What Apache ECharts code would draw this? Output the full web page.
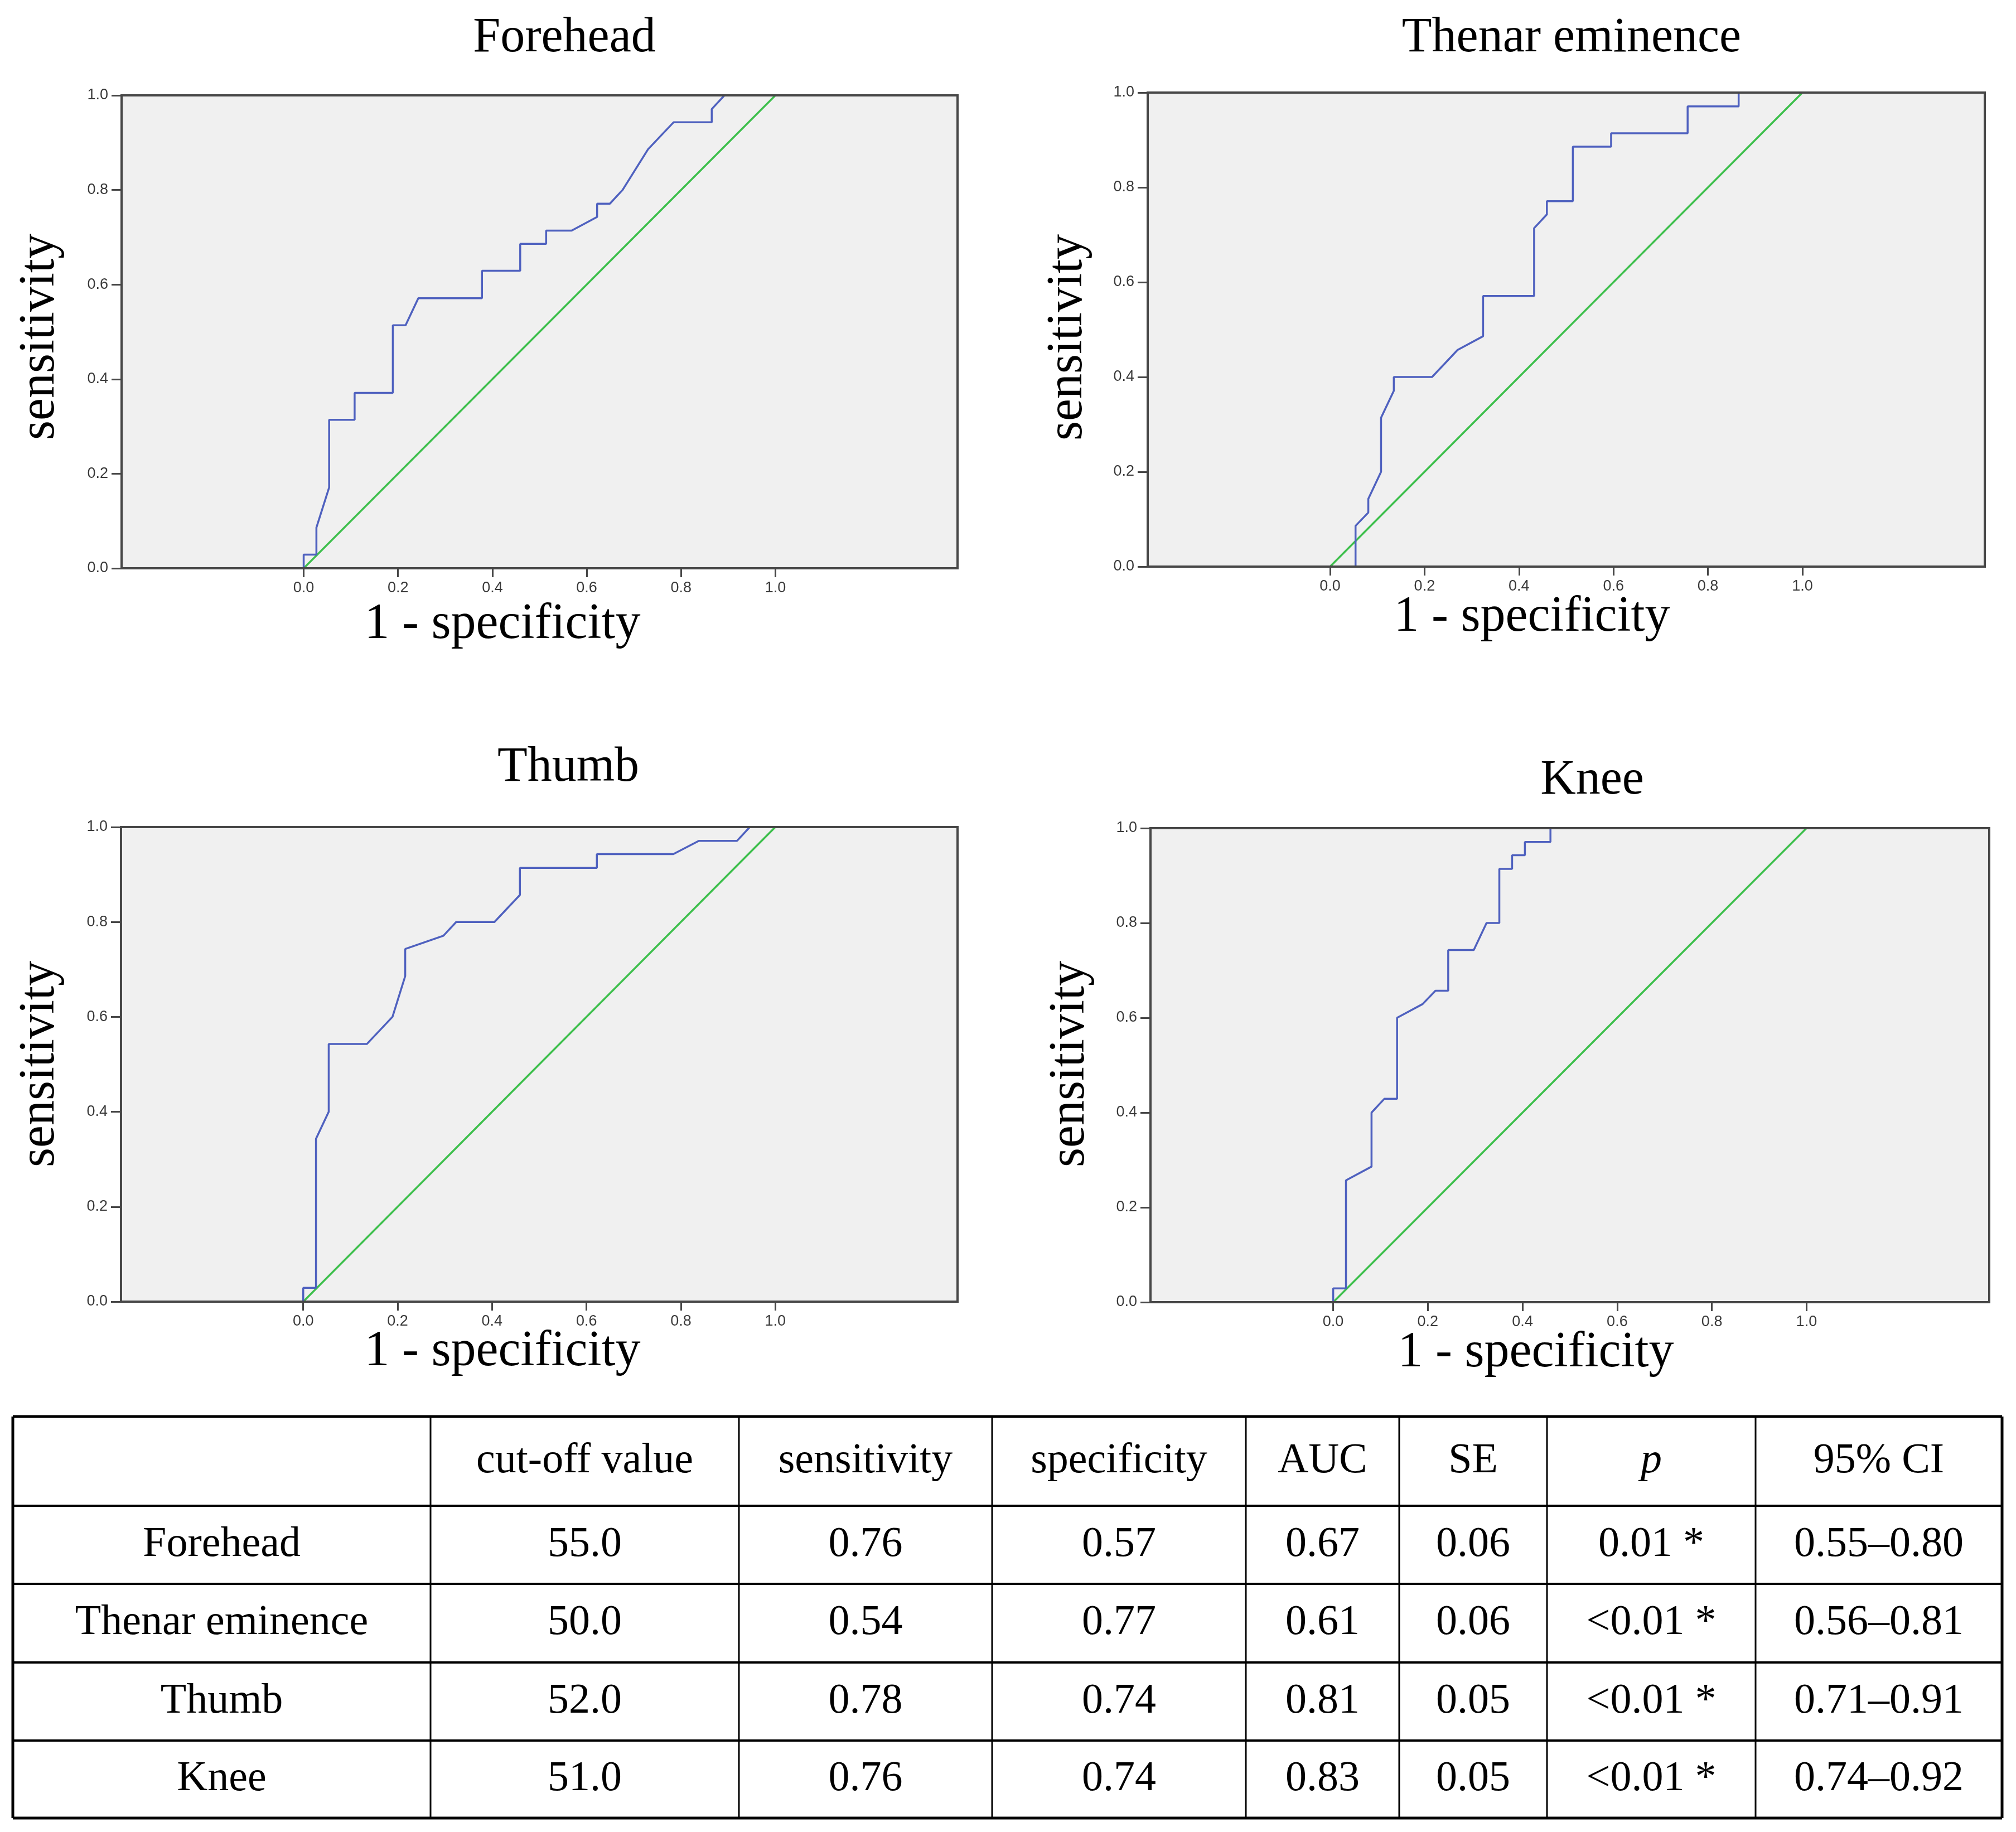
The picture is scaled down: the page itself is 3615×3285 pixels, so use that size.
<!DOCTYPE html>
<html>
<head>
<meta charset="utf-8">
<script src="https://cdn.jsdelivr.net/npm/echarts@6/dist/echarts.min.js"></script>
<style>
html,body{margin:0;padding:0;background:#fff;}
#chart{width:3615px;height:3285px;}
</style>
</head>
<body>
<div id="chart"></div>
<script>
// ---------- data ----------
const panelTitles = ['Forehead', 'Thenar eminence', 'Thumb', 'Knee'];
const xAxisTitle = '1 - specificity';
const yAxisTitle = 'sensitivity';
const tickValues = [0, 0.2, 0.4, 0.6, 0.8, 1.0];
const referenceLine = [[0, 0], [1, 1]];

const rocForehead = [[0,0],[0,0.029],[0.027,0.029],[0.027,0.086],[0.054,0.171],[0.054,0.314],[0.108,0.314],[0.108,0.371],[0.189,0.371],[0.189,0.514],[0.216,0.514],[0.243,0.571],[0.378,0.571],[0.378,0.629],[0.459,0.629],[0.459,0.686],[0.514,0.686],[0.514,0.714],[0.568,0.714],[0.622,0.743],[0.622,0.771],[0.649,0.771],[0.676,0.800],[0.730,0.886],[0.784,0.943],[0.865,0.943],[0.865,0.971],[0.892,1.0],[1,1]];
const rocThenar = [[0,0],[0.054,0],[0.054,0.086],[0.081,0.114],[0.081,0.143],[0.108,0.200],[0.108,0.314],[0.135,0.371],[0.135,0.400],[0.216,0.400],[0.270,0.457],[0.324,0.486],[0.324,0.571],[0.432,0.571],[0.432,0.714],[0.459,0.743],[0.459,0.771],[0.514,0.771],[0.514,0.886],[0.595,0.886],[0.595,0.914],[0.757,0.914],[0.757,0.971],[0.865,0.971],[0.865,1.0],[1,1]];
const rocThumb = [[0,0],[0,0.029],[0.027,0.029],[0.027,0.343],[0.054,0.400],[0.054,0.543],[0.135,0.543],[0.189,0.600],[0.216,0.686],[0.216,0.743],[0.297,0.771],[0.324,0.800],[0.405,0.800],[0.459,0.857],[0.459,0.914],[0.622,0.914],[0.622,0.943],[0.784,0.943],[0.838,0.971],[0.919,0.971],[0.946,1.0],[1,1]];
const rocKnee = [[0,0],[0,0.029],[0.027,0.029],[0.027,0.257],[0.081,0.286],[0.081,0.400],[0.108,0.429],[0.135,0.429],[0.135,0.600],[0.189,0.629],[0.216,0.657],[0.243,0.657],[0.243,0.743],[0.297,0.743],[0.324,0.800],[0.351,0.800],[0.351,0.914],[0.378,0.914],[0.378,0.943],[0.405,0.943],[0.405,0.971],[0.459,0.971],[0.459,1.0],[1,1]];
const rocCurves = [rocForehead, rocThenar, rocThumb, rocKnee];

const tableHeader = ['', 'cut-off value', 'sensitivity', 'specificity', 'AUC', 'SE', 'p', '95% CI'];
const tableRowForehead = ['Forehead', '55.0', '0.76', '0.57', '0.67', '0.06', '0.01 *', '0.55–0.80'];
const tableRowThenar = ['Thenar eminence', '50.0', '0.54', '0.77', '0.61', '0.06', '<0.01 *', '0.56–0.81'];
const tableRowThumb = ['Thumb', '52.0', '0.78', '0.74', '0.81', '0.05', '<0.01 *', '0.71–0.91'];
const tableRowKnee = ['Knee', '51.0', '0.76', '0.74', '0.83', '0.05', '<0.01 *', '0.74–0.92'];
const tableRows = [tableRowForehead, tableRowThenar, tableRowThumb, tableRowKnee];

// ---------- layout / style ----------
const grids = [
  {left: 218, top: 171, width: 1499, height: 848},
  {left: 2058, top: 166, width: 1501, height: 850},
  {left: 217, top: 1483, width: 1500, height: 851},
  {left: 2063, top: 1485, width: 1504, height: 850}
];
const titlePos = [[1012, 69], [2818, 69], [1019, 1377], [2855, 1400]];
const xNamePos = [[901, 1120], [2747, 1107], [901, 2424], [2754, 2426]];
const yNamePos = [[72, 604], [1915, 605], [72, 1908], [1919, 1908]];
const X_MIN = -0.386, X_MAX = 1.386;
const FRAME = '#474747';
const serif = '"Liberation Serif", "Times New Roman", serif';
const sans = '"Liberation Sans", Arial, sans-serif';

const xAxes = [], yAxes = [], series = [], graphics = [];
grids.forEach((g, i) => {
  xAxes.push({
    type: 'value', gridIndex: i, min: X_MIN, max: X_MAX,
    axisLine: {show: true, onZero: false, lineStyle: {color: FRAME, width: 4}},
    axisTick: {show: true, length: 16, inside: false, customValues: tickValues, lineStyle: {color: FRAME, width: 3}},
    axisLabel: {show: true, customValues: tickValues, margin: 22, fontFamily: sans, fontSize: 27, color: '#3a3a3a',
      formatter: v => v.toFixed(1)},
    splitLine: {show: false}
  });
  yAxes.push({
    type: 'value', gridIndex: i, min: 0, max: 1, interval: 0.2,
    axisLine: {show: true, onZero: false, lineStyle: {color: FRAME, width: 4}},
    axisTick: {show: true, length: 18, inside: false, lineStyle: {color: FRAME, width: 3}},
    axisLabel: {show: true, margin: 24, fontFamily: sans, fontSize: 27, color: '#3a3a3a',
      formatter: v => v.toFixed(1)},
    splitLine: {show: false}
  });
  series.push({
    type: 'line', xAxisIndex: i, yAxisIndex: i, data: referenceLine,
    showSymbol: false, silent: true, lineStyle: {color: '#3dbf4c', width: 3.5}, z: 3
  });
  series.push({
    type: 'line', xAxisIndex: i, yAxisIndex: i, data: rocCurves[i],
    showSymbol: false, silent: true, lineStyle: {color: '#4f61bf', width: 3.5}, z: 4
  });
  // plot frame drawn on top of the curves, as in the original
  graphics.push({
    type: 'rect', z: 100, silent: true,
    shape: {x: g.left, y: g.top, width: g.width, height: g.height},
    style: {fill: null, stroke: FRAME, lineWidth: 4}
  });
  graphics.push({
    type: 'text', x: titlePos[i][0], y: titlePos[i][1],
    style: {text: panelTitles[i], font: '88px ' + serif, fill: '#000', align: 'center', verticalAlign: 'middle'}
  });
  graphics.push({
    type: 'text', x: xNamePos[i][0], y: xNamePos[i][1],
    style: {text: xAxisTitle, font: '90px ' + serif, fill: '#000', align: 'center', verticalAlign: 'middle'}
  });
  graphics.push({
    type: 'text', x: yNamePos[i][0], y: yNamePos[i][1], rotation: Math.PI / 2,
    style: {text: yAxisTitle, font: '90px ' + serif, fill: '#000', align: 'center', verticalAlign: 'middle'}
  });
});

// ---------- table ----------
const colX = [23, 772, 1325, 1779, 2234, 2509, 2774, 3148, 3590];
const rowY = [2540, 2700, 2840, 2981, 3121, 3260];
const allRows = [tableHeader].concat(tableRows);
rowY.forEach((y, r) => {
  graphics.push({type: 'line', shape: {x1: colX[0], y1: y, x2: colX[colX.length - 1], y2: y},
    style: {stroke: '#000', lineWidth: (r === 0 || r === rowY.length - 1) ? 5 : 4}});
});
colX.forEach((x, c) => {
  graphics.push({type: 'line', shape: {x1: x, y1: rowY[0], x2: x, y2: rowY[rowY.length - 1]},
    style: {stroke: '#000', lineWidth: (c === 0 || c === colX.length - 1) ? 5 : 3}});
});
allRows.forEach((row, r) => {
  row.forEach((cell, c) => {
    if (!cell) return;
    const italic = (r === 0 && cell === 'p');
    graphics.push({
      type: 'text',
      x: (colX[c] + colX[c + 1]) / 2,
      y: (rowY[r] + rowY[r + 1]) / 2,
      style: {text: cell, font: (italic ? 'italic ' : '') + '76px ' + serif, fill: '#000',
        align: 'center', verticalAlign: 'middle'}
    });
  });
});

const chart = echarts.init(document.getElementById('chart'), null, {renderer: 'canvas'});
chart.setOption({
  animation: false,
  backgroundColor: '#ffffff',
  grid: grids.map(g => Object.assign({show: true, backgroundColor: '#f0f0f0', borderColor: FRAME, borderWidth: 4, containLabel: false}, g)),
  xAxis: xAxes,
  yAxis: yAxes,
  series: series,
  graphic: graphics
});
</script>
</body>
</html>
